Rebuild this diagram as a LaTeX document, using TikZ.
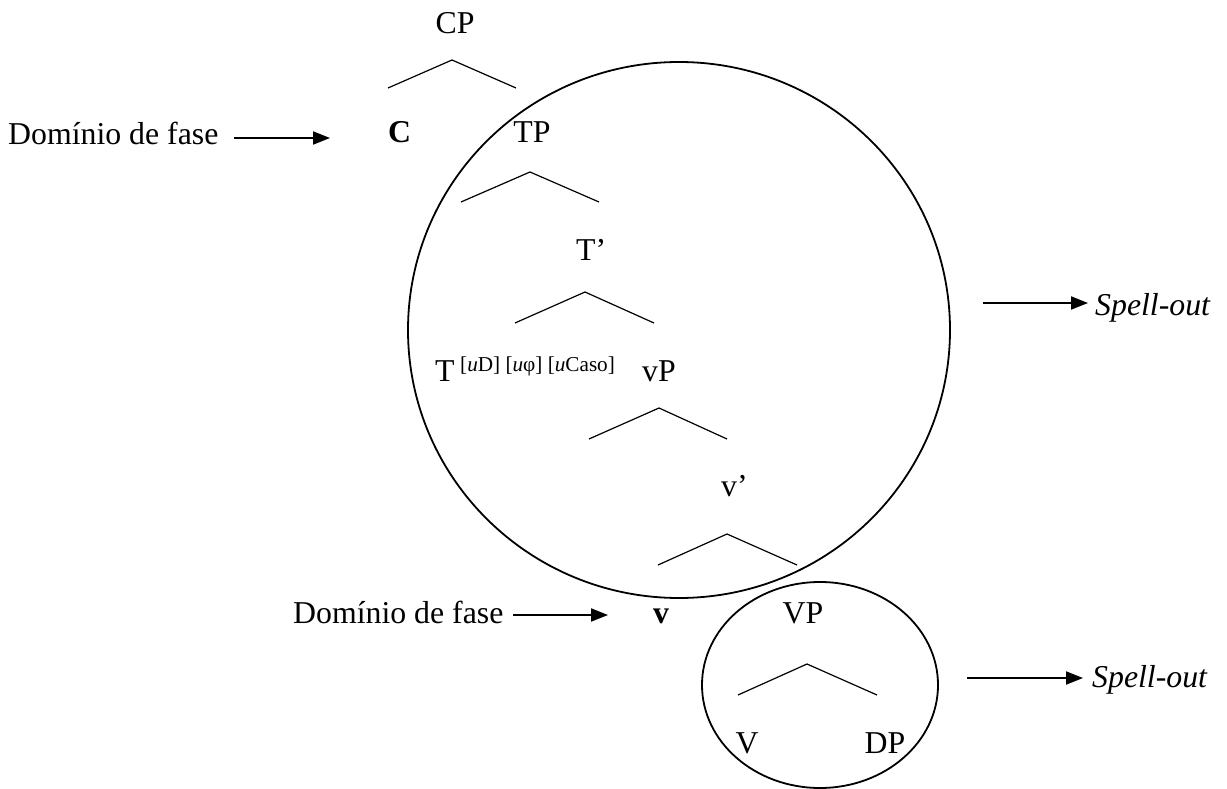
\documentclass[tikz,border=0pt]{standalone}
\usepackage{fontspec}
\setmainfont{Liberation Serif}
\usetikzlibrary{arrows.meta}
\begin{document}
\begin{tikzpicture}[x=1pt,y=-1pt,
  lbl/.style={inner sep=0pt,font=\fontsize{31.8}{38}\selectfont},
  sup/.style={inner sep=0pt,font=\fontsize{21.2}{25}\selectfont},
  branch/.style={line width=1.2pt},
  phase/.style={line width=1.8pt},
  pointer/.style={line width=2pt,-{Triangle[length=17pt,width=13pt]}}]
\useasboundingbox (0,0) rectangle (1227,789);
% phase circles
\draw[phase] (679,330) ellipse[x radius=271,y radius=268];
\draw[phase] (820,685) ellipse[x radius=118,y radius=103];
% labels
\node[lbl,anchor=base] (CP) at (455,34) {CP};
\node[lbl,anchor=base west] (C) at (388,143) {\textbf{C}};
\node[lbl,anchor=base] (TP) at (532,143) {TP};
\node[lbl,anchor=base west] (Tbar) at (576,260) {T’};
\node[lbl,anchor=base west] (T) at (435,381) {T};
\node[sup,anchor=base west] (Tfeat) at (460,371) {[\textit{u}D] [\textit{u}φ] [\textit{u}Caso]};
\node[lbl,anchor=base] (vP) at (659,381) {vP};
\node[lbl,anchor=base west] (vbar) at (721,496) {v’};
\node[lbl,anchor=base] (v) at (661,623) {\textbf{v}};
\node[lbl,anchor=base] (VP) at (803,623) {VP};
\node[lbl,anchor=base] (V) at (747,753) {V};
\node[lbl,anchor=base] (DP) at (885,753) {DP};
\node[lbl,anchor=base west] (dom1) at (8,145) {Domínio de fase};
\node[lbl,anchor=base west] (dom2) at (293,623) {Domínio de fase};
\node[lbl,anchor=base west] (so1) at (1095,315) {\textit{Spell-out}};
\node[lbl,anchor=base west] (so2) at (1092,687) {\textit{Spell-out}};
% branch coordinates
\coordinate (cpA) at (452,60); \coordinate (cpL) at (388,88); \coordinate (cpR) at (516,88);
\coordinate (tpA) at (530,172); \coordinate (tpL) at (461,202); \coordinate (tpR) at (599,202);
\coordinate (tbA) at (585,292); \coordinate (tbL) at (515,323); \coordinate (tbR) at (654,323);
\coordinate (vpA) at (659,408); \coordinate (vpL) at (589,439); \coordinate (vpR) at (727,439);
\coordinate (vbA) at (727,534); \coordinate (vbL) at (658,565); \coordinate (vbR) at (797,565);
\coordinate (VPA) at (807,664); \coordinate (VPL) at (738,695); \coordinate (VPR) at (877,695);
\draw[branch] (cpL) -- (cpA) -- (cpR);
\draw[branch] (tpL) -- (tpA) -- (tpR);
\draw[branch] (tbL) -- (tbA) -- (tbR);
\draw[branch] (vpL) -- (vpA) -- (vpR);
\draw[branch] (vbL) -- (vbA) -- (vbR);
\draw[branch] (VPL) -- (VPA) -- (VPR);
% arrows
\coordinate (a1s) at (234,138); \coordinate (a1e) at (330,138);
\coordinate (a2s) at (513,615); \coordinate (a2e) at (608,615);
\coordinate (a3s) at (983,303); \coordinate (a3e) at (1088,303);
\coordinate (a4s) at (967,678); \coordinate (a4e) at (1083,678);
\draw[pointer] (a1s) -- (a1e);
\draw[pointer] (a2s) -- (a2e);
\draw[pointer] (a3s) -- (a3e);
\draw[pointer] (a4s) -- (a4e);
\end{tikzpicture}
\end{document}
